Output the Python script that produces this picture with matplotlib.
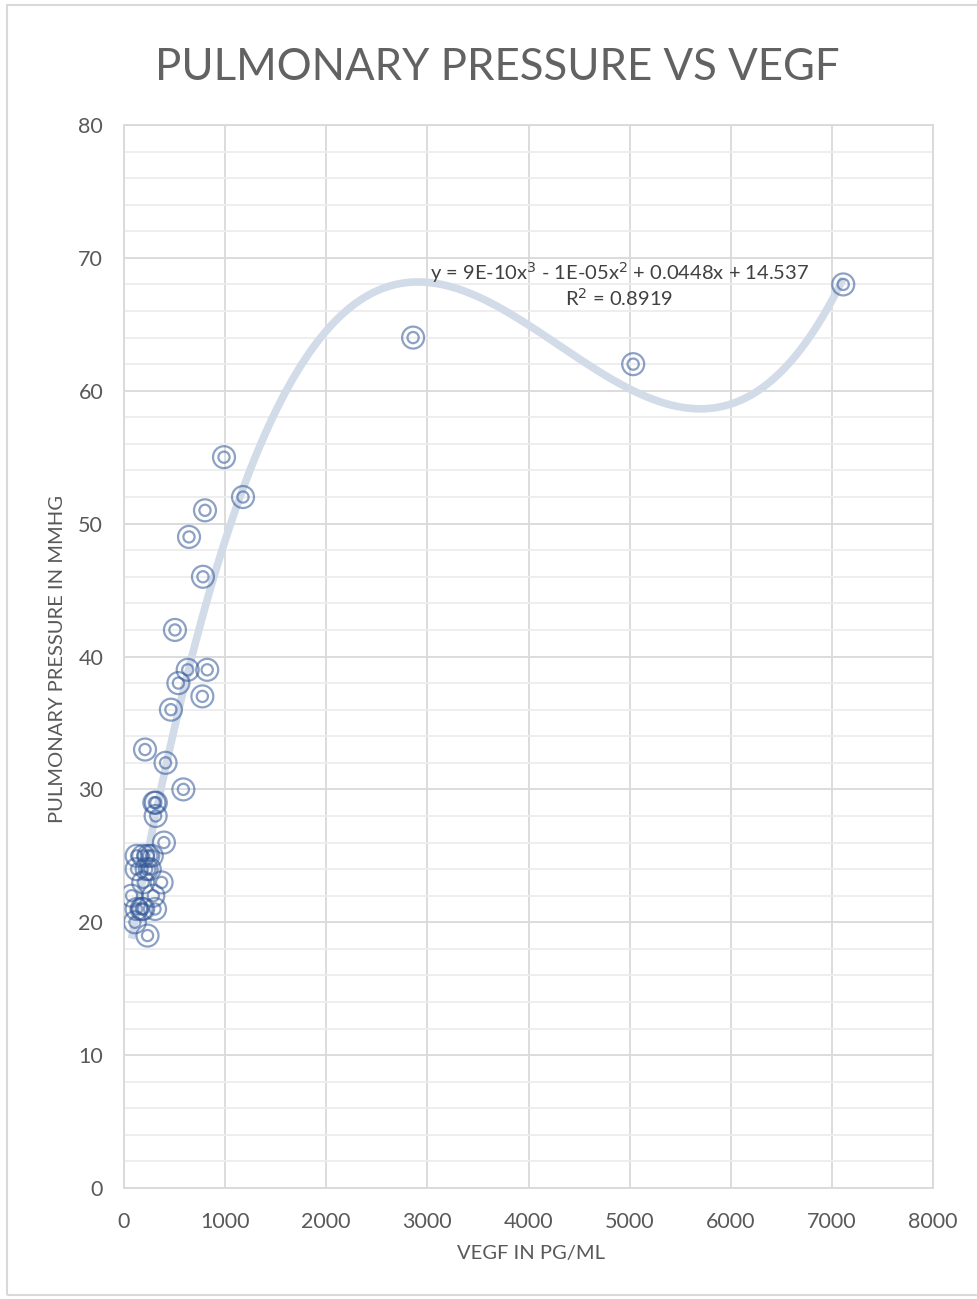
import numpy as np
import matplotlib.pyplot as plt
from matplotlib.patches import Rectangle

# VEGF (pg/ml) and pulmonary pressure (mmHg)
vegf = [7112, 5035, 2859, 989, 1177, 801, 643, 781, 504, 630, 823, 538,
        775, 464, 208, 411, 587, 300, 315, 313, 395,
        125, 190, 240, 275, 125, 224, 255, 190, 372, 75, 290,
        125, 174, 190, 307, 108, 233]
pressure = [68, 62, 64, 55, 52, 51, 49, 46, 42, 39, 39, 38,
            37, 36, 33, 32, 30, 29, 29, 28, 26,
            25, 25, 25, 25, 24, 24, 24, 23, 23, 22, 22,
            21, 21, 21, 21, 20, 19]

title = "PULMONARY PRESSURE VS VEGF"
xlabel = "VEGF IN PG/ML"
ylabel = "PULMONARY PRESSURE IN MMHG"
eq_text = "y = 9E-10x$^3$ - 1E-05x$^2$ + 0.0448x + 14.537"
r2_text = "R$^2$ = 0.8919"

plt.rcParams['font.family'] = ['Lato', 'DejaVu Sans']

fig = plt.figure(figsize=(9.77, 12.99), dpi=100)
ax = fig.add_axes([0.1269, 0.0854, 0.8281, 0.8184])

# frame round the whole chart
fig.patches.append(Rectangle((0.007, 0.003), 1.2, 0.993, transform=fig.transFigure,
                             fill=False, edgecolor='#D9D9D9', linewidth=1.5))

# cubic trendline, fitted with numpy
coef = np.polyfit(vegf, pressure, 3)
xs = np.linspace(min(vegf), max(vegf), 400)
ax.plot(xs, np.polyval(coef, xs), color='#D2DBE8', linewidth=5.5, zorder=2,
        solid_capstyle='butt')

# double-ring markers
ax.scatter(vegf, pressure, s=250, facecolors='none', edgecolors='#2F5597',
           linewidths=1.6, alpha=0.55, zorder=3)
ax.scatter(vegf, pressure, s=65, facecolors='none', edgecolors='#2F5597',
           linewidths=1.6, alpha=0.55, zorder=3)

ax.set_xlim(0, 8000)
ax.set_ylim(0, 80)
ax.set_xticks(np.arange(0, 8001, 1000))
ax.set_yticks(np.arange(0, 81, 10))
ax.set_yticks(np.arange(0, 81, 2), minor=True)
ax.grid(which='major', color='#D9D9D9', linewidth=1.3, zorder=0)
ax.grid(which='minor', axis='y', color='#EDEDED', linewidth=1.3, zorder=0)
ax.set_axisbelow(True)
for side in ['left', 'right', 'top', 'bottom']:
    ax.spines[side].set_color('#D9D9D9')
    ax.spines[side].set_linewidth(1.3)
ax.tick_params(which='both', length=0, labelsize=15.5, labelcolor='#595959')
ax.tick_params(axis='y', pad=15)
ax.tick_params(axis='x', pad=17)

fig.text(0.509, 0.948, title, ha='center', va='center', fontsize=31.5,
         color='#626262')
fig.text(0.543, 0.035, xlabel, ha='center', va='center', fontsize=14.5,
         color='#595959')
fig.text(0.059, 0.493, ylabel, ha='center', va='center', fontsize=14.5,
         color='#595959', rotation=90)

ax.text(4900, 68.9, eq_text, ha='center', va='center', fontsize=14.5,
        color='#404040')
ax.text(4900, 67.0, r2_text, ha='center', va='center', fontsize=14.5,
        color='#404040')

fig.savefig('out.png', dpi=100)
